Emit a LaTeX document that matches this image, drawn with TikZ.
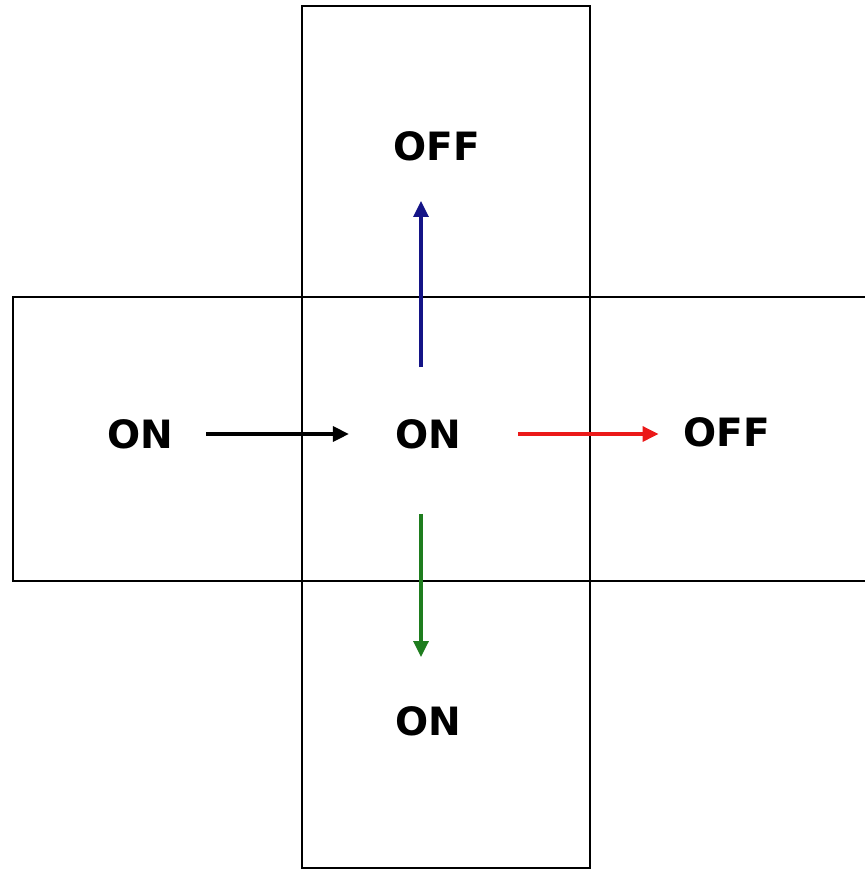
\documentclass[tikz,border=0pt]{standalone}
\usepackage{fontspec}
\setmainfont{DejaVu Sans}
\usetikzlibrary{arrows.meta,positioning,calc}
\definecolor{upblue}{RGB}{20,20,135}
\definecolor{downgreen}{RGB}{30,125,30}
\definecolor{outred}{RGB}{235,25,25}
\tikzset{
  panel/.style={draw, line width=1.5pt},
  state/.style={inner sep=0pt, font=\bfseries\fontsize{39}{41}\selectfont},
  edge/.style={-{Triangle[length=16pt, width=15pt]}, line width=3.2pt}
}

\begin{document}
\begin{tikzpicture}[x=1pt, y=-1pt]
\useasboundingbox (0,0) rectangle (865,871);
\draw[panel] (302,6) rectangle (590,868);
\draw[panel] (13,297) rectangle (870,581);

\node[state] (con) at (428,434) {ON};
\node[state] (lon) at (140,434) {ON};
\node[state] (roff) at (727,432) {OFF};
\node[state] (toff) at (437,146) {OFF};
\node[state] (bon) at (428,721) {ON};

\draw[edge, shorten <=33pt, shorten >=46pt] (lon.east) -- (lon.east -| con.west);
\draw[edge, outred, shorten <=57pt, shorten >=25pt] (con.east) -- (con.east -| roff.west);
\draw[edge, upblue, shorten <=52pt, shorten >=40pt] ([xshift=-7pt]con.north) -- ([xshift=-7pt]con.north |- toff.south);
\draw[edge, downgreen, shorten <=65pt, shorten >=49pt] ([xshift=-7pt]con.south) -- ([xshift=-7pt]con.south |- bon.north);
\end{tikzpicture}
\end{document}
